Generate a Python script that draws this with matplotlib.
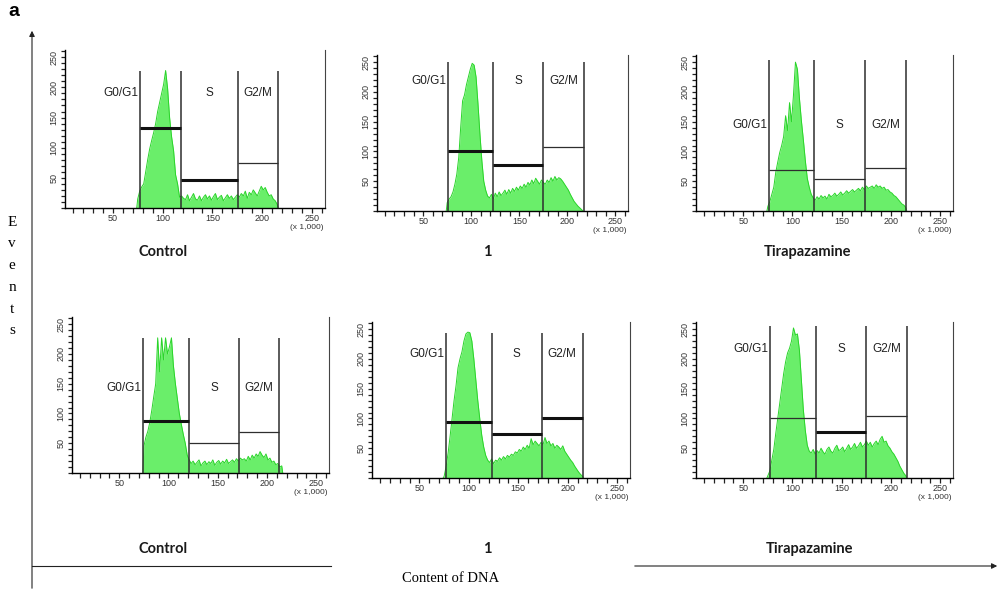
import numpy as np
import matplotlib.pyplot as plt
from matplotlib.ticker import MultipleLocator, FixedLocator

# histogram bins: first bin centre and bin width (channel units x 1,000)
bin_start = 75
bin_step = 2

panel_titles = ['Control', '1', 'Tirapazamine', 'Control', '1', 'Tirapazamine']

# event counts per bin, centres 75, 77, ..., 215
counts_ctrl_a = [15, 28, 35, 40, 60, 80, 98, 112, 125, 140, 160, 175, 190, 205, 228, 198, 150, 118, 95, 55, 40, 18,
                 20, 16, 14, 22, 12, 18, 24, 15, 13, 20, 12, 18, 22, 15, 20, 13, 19, 24, 14, 18, 21, 12, 17, 22, 16, 20, 14, 18, 22,
                 18, 24, 20, 28, 16, 26, 22, 30, 25, 20, 28, 36, 30, 34, 26, 20, 22, 15, 12, 6]
counts_cpd1_a = [14, 20, 24, 32, 45, 62, 90, 140, 185, 195, 212, 225, 238, 248, 245, 225, 180, 130, 85, 50, 35, 25,
                 22, 28, 20, 30, 24, 32, 26, 30, 35, 28, 36, 30, 38, 33, 40, 35, 42, 38, 45, 40, 48, 44, 52, 46, 55, 50, 45, 52, 48,
                 45, 52, 48, 56, 50, 58, 52, 56, 54, 50, 45, 40, 35, 28, 22, 16, 12, 8, 5, 2]
counts_tpz_a = [8, 16, 28, 40, 65, 82, 98, 110, 125, 160, 135, 182, 150, 195, 250, 238, 190, 152, 120, 85, 55, 40,
                28, 22, 18, 24, 20, 26, 22, 25, 20, 28, 24, 26, 30, 25, 28, 32, 27, 30, 34, 30, 33, 36, 32, 35, 38, 34, 40, 36, 42,
                38, 40, 42, 38, 44, 40, 42, 38, 40, 35, 36, 32, 30, 26, 24, 20, 16, 12, 10, 6]
counts_ctrl_b = [45, 60, 70, 85, 105, 128, 150, 227, 170, 227, 190, 227, 200, 212, 227, 180, 150, 125, 100, 82, 65, 50,
                 30, 22, 16, 20, 14, 18, 22, 12, 17, 20, 14, 19, 16, 22, 13, 18, 21, 15, 20, 17, 23, 16, 19, 22, 18, 24, 20, 25, 22,
                 24, 20, 28, 22, 30, 25, 32, 28, 36, 30, 26, 32, 22, 25, 18, 20, 14, 16, 10, 12]
counts_cpd1_b = [3, 20, 42, 70, 100, 130, 155, 185, 200, 212, 230, 242, 245, 244, 230, 200, 165, 130, 100, 72, 52, 38,
                 30, 26, 32, 24, 30, 28, 34, 30, 36, 32, 38, 35, 40, 38, 44, 42, 48, 45, 52, 48, 55, 50, 66, 56, 62, 58, 54, 60, 56,
                 68, 58, 62, 54, 58, 50, 55, 52, 48, 54, 45, 40, 35, 30, 26, 20, 15, 10, 6, 3]
counts_tpz_b = [4, 12, 30, 48, 75, 100, 125, 150, 175, 195, 210, 218, 230, 252, 240, 242, 215, 165, 115, 80, 55, 45,
                42, 48, 40, 46, 42, 50, 44, 40, 48, 52, 45, 42, 50, 55, 46, 48, 52, 44, 50, 56, 48, 52, 58, 50, 54, 60, 52, 56, 62,
                55, 60, 52, 58, 62, 56, 65, 70, 60, 62, 54, 50, 44, 40, 34, 28, 20, 14, 8, 4]

# gate boundaries: G0/G1 start, G0/G1|S, S|G2/M, G2/M end
gates_ctrl_a = [77, 118, 176, 216]
gates_cpd1_a = [76, 123, 175, 217]
gates_tpz_a = [76, 122, 174, 215]
gates_ctrl_b = [74, 121, 172, 212]
gates_cpd1_b = [77, 123, 174, 215]
gates_tpz_b = [77, 124, 175, 216]
gate_tops = [227, 250, 254, 227, 244, 255]
# marker levels for G0/G1, S, G2/M
levels_ctrl_a = [132, 47, 75]
levels_cpd1_a = [100, 78, 107]
levels_tpz_a = [69, 54, 72]
levels_ctrl_b = [87, 50, 69]
levels_cpd1_b = [94, 74, 101]
levels_tpz_b = [101, 77, 104]
thick_marks = [[True, True, False], [True, True, False], [False, False, False],
               [True, False, False], [True, True, True], [False, True, False]]
gate_names = ['G0/G1', 'S', 'G2/M']

all_counts = [counts_ctrl_a, counts_cpd1_a, counts_tpz_a, counts_ctrl_b, counts_cpd1_b, counts_tpz_b]
all_gates = [gates_ctrl_a, gates_cpd1_a, gates_tpz_a, gates_ctrl_b, gates_cpd1_b, gates_tpz_b]
all_levels = [levels_ctrl_a, levels_cpd1_a, levels_tpz_a, levels_ctrl_b, levels_cpd1_b, levels_tpz_b]

# layout in pixels: left, right, bottom, top of each plot
W, H = 1002, 591
rects = [(65, 325, 208, 50), (377, 628, 211, 55), (696, 953, 211, 55),
         (72, 329, 473, 317), (372, 630, 478, 322), (696, 953, 478, 322)]
label_y = [190, 218, 145, 142, 208, 217]
title_xy = [(163, 252), (487, 252), (808, 252), (163, 549), (487, 549), (810, 549)]

narrow = ['Liberation Sans Narrow', 'Liberation Sans', 'DejaVu Sans']
fill_c = '#6aee6a'
edge_c = '#2ad42a'
line_c = '#2e2e2e'

fig = plt.figure(figsize=(W / 100, H / 100), dpi=100)

bg = fig.add_axes([0, 0, 1, 1])
bg.set_xlim(0, W)
bg.set_ylim(H, 0)
bg.axis('off')

bg.text(14, 12, 'a', fontsize=14, fontweight='bold', family='Liberation Sans', ha='center', va='center')
bg.annotate('', xy=(32, 28), xytext=(32, 591),
            arrowprops=dict(arrowstyle='-|>', lw=0.8, color='#222', mutation_scale=8))
for k, ch in enumerate('Events'):
    bg.text(12, 222 + k * 21.8, ch, fontsize=11, family='Liberation Serif', ha='center', va='center')
bg.plot([32, 331], [566, 566], color='#222', lw=0.8)
bg.annotate('', xy=(1000, 566), xytext=(632, 566),
            arrowprops=dict(arrowstyle='-|>', lw=0.8, color='#222', mutation_scale=8))
bg.text(451, 578, 'Content of DNA', fontsize=10.5, family='Liberation Serif', ha='center', va='center')

for i in range(6):
    L, R, B, T = rects[i]
    ax = fig.add_axes([L / W, (H - B) / H, (R - L) / W, (B - T) / H])
    ax.patch.set_alpha(0)
    counts = np.array(all_counts[i])
    centres = bin_start + bin_step * np.arange(len(counts))
    xs = np.concatenate([[centres[0] - 1], centres, [centres[-1] + 1]])
    ys = np.concatenate([[0], counts, [0]])
    ax.fill_between(xs, ys, 0, color=fill_c, lw=0, zorder=1)
    ax.plot(xs, ys, color=edge_c, lw=0.7, zorder=2)

    g = all_gates[i]
    ax.vlines(g, 0, gate_tops[i], color=line_c, lw=1.1, zorder=3)
    for j in range(3):
        lw = 2.2 if thick_marks[i][j] else 0.9
        ax.hlines(all_levels[i][j], g[j], g[j + 1], color='#111' if thick_marks[i][j] else line_c, lw=lw, zorder=4)

    ly = label_y[i]
    ax.text(g[0] - 1.5, ly, gate_names[0], ha='right', va='center', fontsize=8.5, family=narrow, color='#222')
    ax.text((g[1] + g[2]) / 2, ly, gate_names[1], ha='center', va='center', fontsize=8.5, family=narrow, color='#222')
    ax.text((g[2] + g[3]) / 2, ly, gate_names[2], ha='center', va='center', fontsize=8.5, family=narrow, color='#222')

    ax.set_xlim(2, 263)
    ax.set_ylim(0, 262)
    ax.spines['top'].set_visible(False)
    ax.spines['right'].set_color('#444')
    ax.spines['left'].set_linewidth(1.0)
    ax.spines['bottom'].set_linewidth(1.0)
    ax.xaxis.set_major_locator(FixedLocator([50, 100, 150, 200, 250]))
    ax.xaxis.set_minor_locator(MultipleLocator(10))
    ax.yaxis.set_major_locator(FixedLocator([50, 100, 150, 200, 250]))
    ax.yaxis.set_minor_locator(MultipleLocator(10))
    ax.tick_params(which='both', direction='out', length=3.5, width=0.9, color='#222',
                   labelsize=6.5, labelcolor='#333')
    ax.tick_params(axis='x', which='both', pad=0.5)
    ax.tick_params(axis='y', which='both', length=3, pad=1.5)
    for lab in ax.get_xticklabels() + ax.get_yticklabels():
        lab.set_family(narrow)
    for lab in ax.get_yticklabels():
        lab.set_rotation(90)
        lab.set_va('center')
    ax.annotate('(x 1,000)', xy=(261, 0), xycoords='data', xytext=(0, -11.5), textcoords='offset points',
                ha='right', va='top', fontsize=6, family=narrow, color='#333')

    tx, ty = title_xy[i]
    bg.text(tx, ty, panel_titles[i], fontsize=10.5, fontweight='bold', family=['Lato', 'DejaVu Sans'],
            ha='center', va='center', color='#1a1a1a')

fig.savefig('out.png', dpi=100)
